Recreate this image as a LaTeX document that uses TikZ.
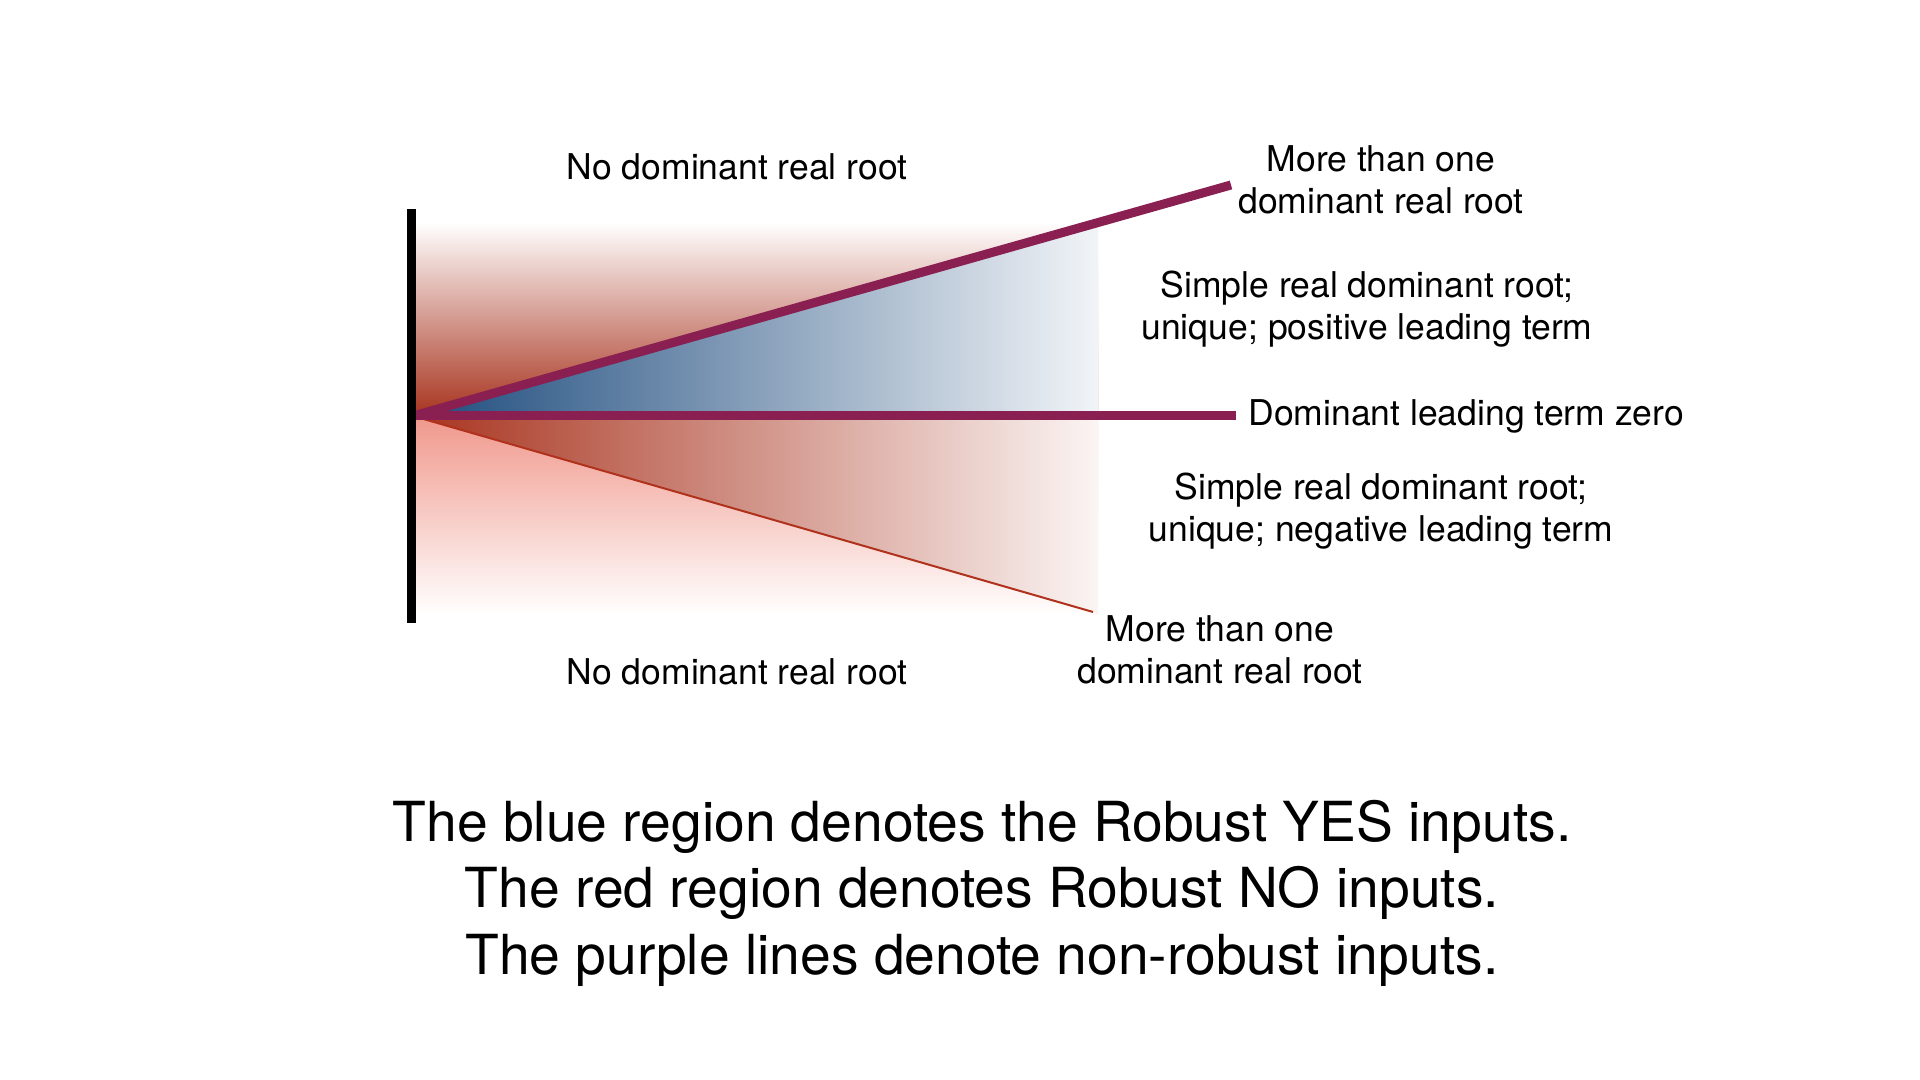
\documentclass[tikz,border=0pt]{standalone}
\usepackage{fontspec}
\setmainfont{TeX Gyre Heros}
\usetikzlibrary{positioning}
\definecolor{rootred}{HTML}{A8341F}
\definecolor{rootpink}{HTML}{F0988C}
\definecolor{rootblue}{HTML}{1D4B7D}
\definecolor{rootpurple}{HTML}{8A1F52}
\definecolor{linered}{HTML}{B0311C}

\begin{document}
\begin{tikzpicture}[x=0.01cm,y=-0.01cm,
  lbl/.style={align=center,font=\fontsize{10.1}{12.1}\selectfont},
  captiontext/.style={align=center,font=\fontsize{15.7}{18.9}\selectfont},
  nonrobust/.style={line width=0.09cm,rootpurple}]
\useasboundingbox (0,0) rectangle (1920,1080);
\coordinate (o) at (413,416);
\coordinate (u) at (1231,185);
\coordinate (h) at (1236,416);
\coordinate (d) at (1093,612);
\coordinate (bt) at (411,209);
\coordinate (bb) at (411,623);
\shade[top color=white,middle color=rootred!55!white,bottom color=rootred] (411,222) rectangle (1098,416);
\shade[left color=rootblue,middle color=rootblue!78!white,right color=rootblue!6!white] (o) -- (1098,222) -- (1098,416) -- cycle;
\shade[top color=rootpink,middle color=rootpink!85!white,bottom color=white] (411,416) rectangle (1098,615);
\shade[left color=rootred,middle color=rootred!68!white,right color=rootred!5!white] (o) -- (1098,416) -- (1098,615) -- (d) -- cycle;
\draw[linered,line width=0.02cm] (o) -- (d);
\draw[nonrobust] (o) -- (u);
\draw[nonrobust] (o) -- (h);
\draw[line width=0.09cm] (bt) -- (bb);
\node[lbl] (top) at (737,167) {No dominant real root};
\node[lbl] (bottom) at (737,672) {No dominant real root};
\node[lbl] (multup) at (1381,180) {More than one\\dominant real root};
\node[lbl] (pos) at (1367,309) {Simple real dominant root;\\unique; positive leading term};
\node[lbl,right=0pt of h] (zero) {Dominant leading term zero};
\node[lbl] (neg) at (1381,511) {Simple real dominant root;\\unique; negative leading term};
\node[lbl] (multdown) at (1220,650) {More than one\\dominant real root};
\node[captiontext] (caption) at (982,893) {The blue region denotes the Robust YES inputs.\\The red region denotes Robust NO inputs.\\The purple lines denote non-robust inputs.};
\end{tikzpicture}
\end{document}
